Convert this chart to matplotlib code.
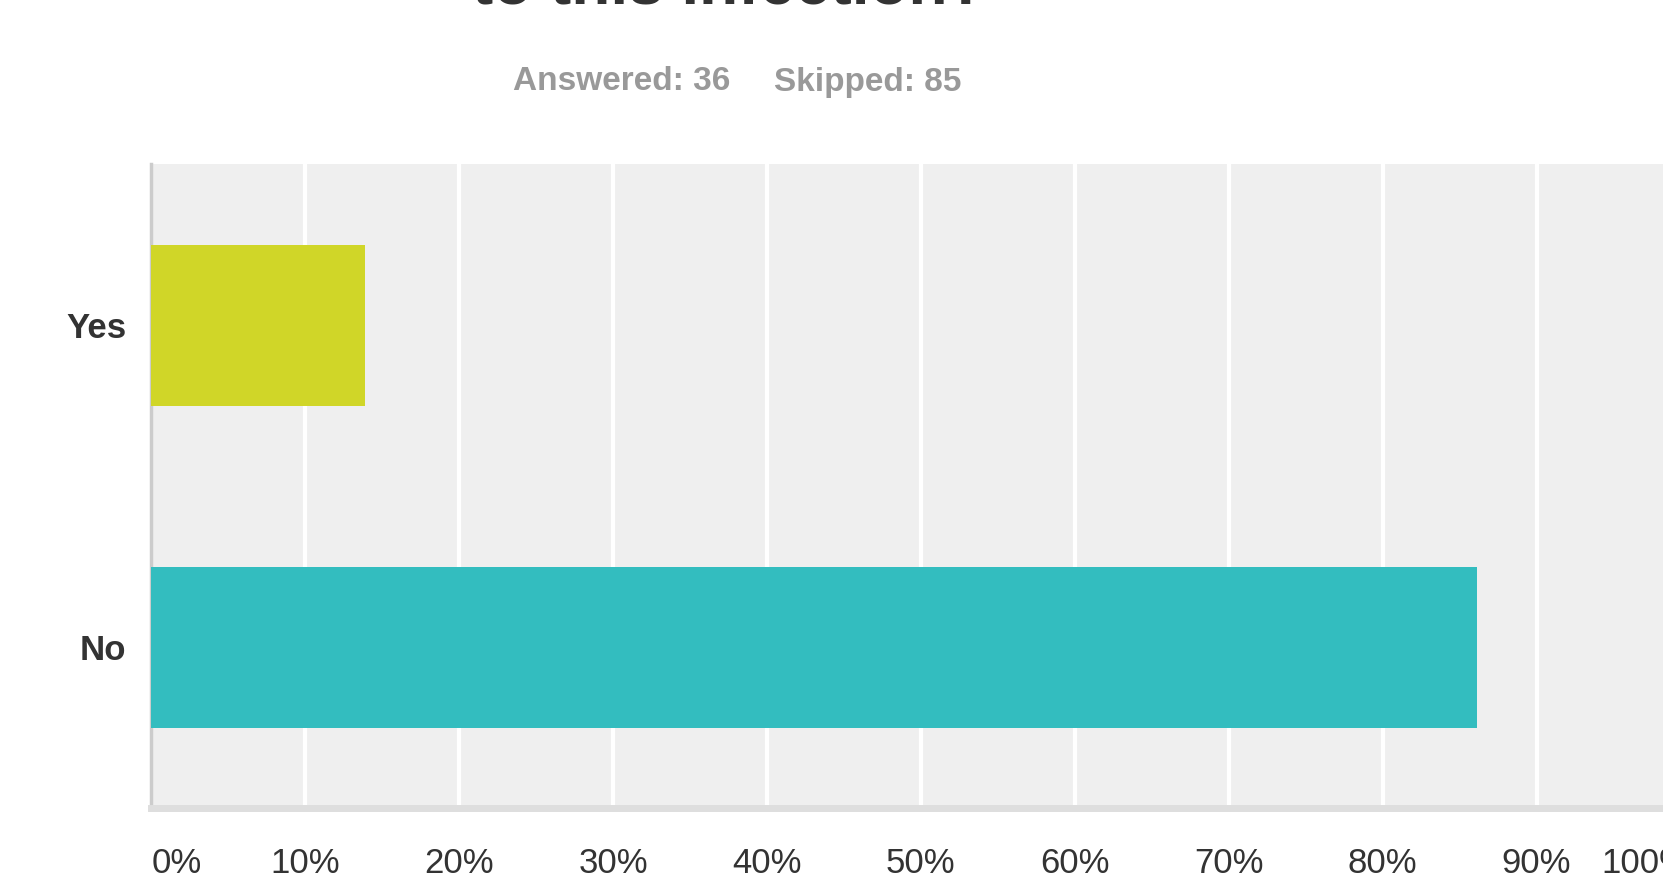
import matplotlib.pyplot as plt
import numpy as np

plt.rcParams['font.family'] = ['Liberation Sans', 'DejaVu Sans']

answers = ["Yes", "No"]
percent = [13.89, 86.11]
colors = ['#d0d628', '#33bdbf']
ticks = [0, 10, 20, 30, 40, 50, 60, 70, 80, 90, 100]
tick_labels = ["%d%%" % t for t in ticks]

fig = plt.figure(figsize=(16.63, 8.8), dpi=100)

# plot area runs past the right edge like the cropped screenshot
ax = fig.add_axes([0.0910, 0.0818, 0.9255, 0.7314])
ax.set_facecolor('#efefef')

y = np.arange(len(answers))
ax.barh(y, percent, height=0.5, color=colors, zorder=3)

ax.set_xlim(0, 100)
ax.set_ylim(1.5, -0.5)
ax.set_xticks(ticks)
ax.set_xticklabels(tick_labels, fontsize=25, color='#333333')
ax.set_yticks(y)
ax.set_yticklabels(answers, fontsize=25, fontweight='bold', color='#333333')
ax.tick_params(axis='x', length=0, pad=28)
ax.tick_params(axis='y', length=0, pad=18)
ax.get_xticklabels()[0].set_horizontalalignment('left')
ax.get_xticklabels()[-1].set_horizontalalignment('right')

ax.grid(axis='x', color='white', linewidth=3, zorder=1)
ax.set_axisbelow(True)

for s in ['top', 'right']:
    ax.spines[s].set_visible(False)
ax.spines['left'].set_color('#cccccc')
ax.spines['left'].set_linewidth(2.5)
ax.spines['bottom'].set_color('#dedede')
ax.spines['bottom'].set_linewidth(5)

fig.text(0.4385, 1 - 3.0 / 880, "to this infection?", fontsize=46, fontweight='bold',
         color='#333333', ha='center', va='baseline')
fig.text(0.3085, 1 - 82 / 880, "Answered: 36", fontsize=24, fontweight='bold',
         color='#999999', ha='left', va='center')
fig.text(0.4655, 1 - 82 / 880, "Skipped: 85", fontsize=24, fontweight='bold',
         color='#999999', ha='left', va='center')

plt.savefig("out.png", dpi=100)
